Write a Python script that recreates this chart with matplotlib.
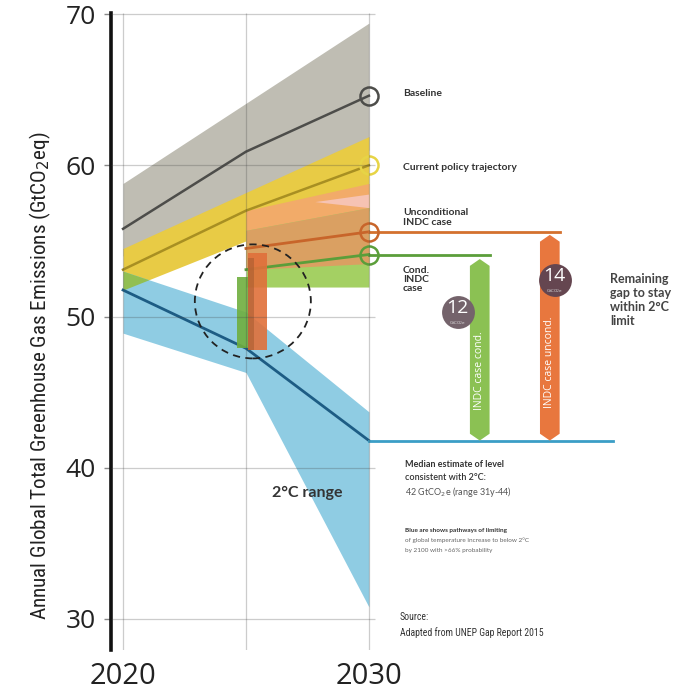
import numpy as np
import matplotlib
matplotlib.use('Agg')
import matplotlib.pyplot as plt
from matplotlib.patches import Ellipse, Polygon
from matplotlib import font_manager

# ---------------- data ----------------
years = [2020, 2025, 2030]
baseline = [55.8, 60.9, 64.6]
baseline_hi = [58.8, 64.1, 69.4]
baseline_lo = [54.0, 57.5, 61.0]
current = [53.1, 57.0, 60.0]
current_hi = [54.5, 58.2, 61.9]
current_lo = [51.75, 55.0, 57.0]
twoC = [51.75, 47.9, 41.8]
twoC_hi = [53.0, 50.3, 43.7]
twoC_lo = [48.9, 46.3, 30.8]

indc_years = [2025, 2030]
uncond = [54.5, 55.6]
uncond_hi = [57.0, 58.8]
uncond_lo = [53.1, 53.5]
cond = [53.1, 54.1]
cond_hi = [55.7, 57.2]
cond_lo = [51.95, 51.95]

pink_years = [2027.8, 2030]
pink_hi = [57.6, 58.1]
pink_lo = [57.6, 57.2]

bar_cond_2025 = [47.9, 52.6]
bar_uncond_2025 = [47.8, 54.2]

target_2030 = 41.8
gap_values = ['12', '14']
gap_names = ['INDC case cond.', 'INDC case uncond.']
yticks = [30, 40, 50, 60, 70]
xticks = [2020, 2030]

# ---------------- fonts ----------------
names = {f.name for f in font_manager.fontManager.ttflist}
if 'Liberation Sans Narrow' in names:
    narrow = dict(family='Liberation Sans Narrow')
elif 'Roboto Condensed' in names:
    narrow = dict(family='Roboto Condensed')
else:
    narrow = dict(family='DejaVu Sans', stretch='condensed')
LAB = 'Lato'

# ---------------- figure ----------------
fig = plt.figure(figsize=(6.86, 6.91), dpi=100)
ax = fig.add_axes([111/686, 1-650/691, 1-111/686, (650-13)/691])
ax.set_xlim(2019.51, 2042.9)
ax.set_ylim(27.95, 70.07)
for s in ['top', 'right', 'bottom']:
    ax.spines[s].set_visible(False)
ax.spines['left'].set_linewidth(2.6)
ax.spines['left'].set_color('#111111')

ax.set_yticks(yticks)
ax.set_yticklabels([str(v) for v in yticks], family='Open Sans', fontsize=19, color='#222222')
ax.tick_params(axis='y', length=5, width=1, color='#888888', pad=6)
ax.set_xticks(xticks)
ax.set_xticklabels([str(v) for v in xticks], family='Open Sans', fontsize=21, color='#222222')
ax.tick_params(axis='x', length=0, pad=9)

ax.set_ylabel('Annual Global Total Greenhouse Gas Emissions (GtCO$_2$eq)',
              fontsize=15.2, color='#222222', **narrow)
ax.yaxis.set_label_coords(-0.1, 0.43)

# gridlines (drawn on top, semi transparent)
ax.hlines(yticks, 2019.51, 2030.25, color='#444444', lw=0.9, alpha=0.27, zorder=9)
ax.vlines(years, 27.95, 70.07, color='#444444', lw=0.9, alpha=0.27, zorder=9)

# ---------------- bands ----------------
ax.fill_between(years, baseline_lo, baseline_hi, color='#bfbdb3', lw=0, zorder=1)
ax.fill_between(years, current_lo, current_hi, color='#e8cb45', lw=0, zorder=2)
ax.fill_between(years, twoC_lo, twoC_hi, color='#8fcce3', lw=0, zorder=2)
xs = np.linspace(2020, 2025, 300)
ov_lo = np.maximum(np.interp(xs, years, current_lo), np.interp(xs, years, twoC_lo))
ov_hi = np.minimum(np.interp(xs, years, current_hi), np.interp(xs, years, twoC_hi))
ax.fill_between(xs, ov_lo, ov_hi, where=ov_hi > ov_lo, interpolate=True,
                color='#92bf52', lw=0, zorder=2.5)

ax.fill_between(indc_years, uncond_lo, uncond_hi, color='#f2ab69', lw=0, zorder=3)
ax.fill_between(pink_years, pink_lo, pink_hi, color='#f6c3b3', lw=0, zorder=3.1)
ax.fill_between(indc_years, cond_lo, cond_hi, color='#a4d063', lw=0, zorder=3)
ov2_lo = np.maximum(uncond_lo, cond_lo)
ov2_hi = np.minimum(uncond_hi, cond_hi)
ax.fill_between(indc_years, ov2_lo, ov2_hi, color='#daa062', lw=0, zorder=3.2)

# ---------------- lines ----------------
ax.plot(years, baseline, color='#4d4d4a', lw=1.8, zorder=5)
ax.plot(years, current, color='#a88f22', lw=1.8, zorder=5)
ax.plot(indc_years, uncond, color='#c8652a', lw=2.0, zorder=5)
ax.plot(indc_years, cond, color='#5b9e3a', lw=2.0, zorder=5)
ax.plot(years, twoC, color='#1d5c84', lw=2.0, zorder=5)

mk = dict(marker='o', ms=13, mfc='none', mew=1.8, zorder=6, clip_on=False)
ax.plot([years[-1]], [baseline[-1]], mec='#4d4d4a', **mk)
ax.plot([years[-1]], [current[-1]], mec='#e7d445', **mk)
ax.plot([indc_years[-1]], [uncond[-1]], mec='#c8652a', **mk)
ax.plot([indc_years[-1]], [cond[-1]], mec='#5b9e3a', **mk)

# extension lines to the gap arrows
x_cond, x_unc, hw = 2034.51, 2037.36, 0.4
ax.plot([2030, x_cond + hw], [cond[-1]] * 2, color='#5b9e3a', lw=2.0, zorder=5, clip_on=False)
ax.plot([2030, x_unc + hw], [uncond[-1]] * 2, color='#d4712e', lw=2.0, zorder=5, clip_on=False)
ax.plot([2030, 2039.92], [target_2030] * 2, color='#3b9ec6', lw=2.0, zorder=5, clip_on=False)

# 2025 bars
ax.bar([2024.855], [bar_cond_2025[1] - bar_cond_2025[0]], bottom=[bar_cond_2025[0]],
       width=0.45, color='#6fae3e', alpha=0.9, lw=0, zorder=7)
ax.bar([2025.47], [bar_uncond_2025[1] - bar_uncond_2025[0]], bottom=[bar_uncond_2025[0]],
       width=0.77, color='#e0703a', alpha=0.9, lw=0, zorder=7)
ax.bar([2025.2], [bar_uncond_2025[1] - bar_uncond_2025[0] - 0.3], bottom=[bar_uncond_2025[0]],
       width=0.22, color='#a45a2e', alpha=0.55, lw=0, zorder=7.1)

# dashed circle
ax.add_patch(Ellipse((2025.28, 51.0), 4.72, 7.54, fill=False, ls=(0, (4, 3)),
                     lw=1.3, ec='#222222', zorder=8))

# gap arrows
def gap_arrow(xc, top, bottom, color):
    h = 0.45
    pts = [(xc - hw, bottom + h), (xc, bottom), (xc + hw, bottom + h),
           (xc + hw, top - h), (xc, top), (xc - hw, top - h)]
    ax.add_patch(Polygon(pts, closed=True, fc=color, ec='none', zorder=7, clip_on=False))

gap_arrow(x_cond, cond[-1] - 0.3, target_2030, '#8bc153')
gap_arrow(x_unc, uncond[-1] - 0.2, target_2030, '#e8773e')
ax.text(x_cond, 46.4, gap_names[0], rotation=90, color='white', fontsize=7.5,
        ha='center', va='center', family='Open Sans', zorder=8)
ax.text(x_unc, 47.0, gap_names[1], rotation=90, color='white', fontsize=7.5,
        ha='center', va='center', family='Open Sans', zorder=8)

for (xc, yc, col), val in zip([(2033.62, 50.29, '#74636b'), (2037.56, 52.41, '#654650')], gap_values):
    ax.scatter([xc], [yc], s=560, color=col, zorder=9, clip_on=False, lw=0)
    ax.text(xc, yc + 0.25, val, color='white', fontsize=14, ha='center', va='center',
            family='Open Sans', zorder=10)
    ax.text(xc, yc - 0.75, 'GtCO$_2$e', color='#dddddd', fontsize=3, ha='center',
            va='center', zorder=10)

# ---------------- annotations ----------------
tc = '#333333'
ax.text(2031.38, 64.78, 'Baseline', fontsize=7.5, weight='bold', color=tc, family=LAB, va='center')
ax.text(2031.38, 59.88, 'Current policy trajectory', fontsize=7.5, weight='bold', color=tc,
        family=LAB, va='center')
ax.text(2031.38, 56.57, 'Unconditional\nINDC case', fontsize=7.5, weight='bold', color=tc,
        family=LAB, va='center', linespacing=1.1)
ax.text(2031.38, 52.47, 'Cond.\nINDC\ncase', fontsize=7.5, weight='bold', color=tc,
        family=LAB, va='center', linespacing=1.0)
ax.text(2039.8, 51.1, 'Remaining\ngap to stay\nwithin 2°C\nlimit', fontsize=9, weight='bold',
        color='#444444', family=LAB, va='center', linespacing=1.2)
ax.text(2027.48, 38.32, '2°C range', fontsize=11.5, weight='bold', color=tc, family=LAB,
        ha='center', va='center', zorder=10)

ax.text(2031.46, 40.24, 'Median estimate of level', fontsize=6.5, weight='bold', color=tc,
        family=LAB, va='center')
ax.text(2031.46, 39.38, 'consistent with 2°C:', fontsize=6.5, color=tc, family=LAB,
        va='center', weight='semibold')
ax.text(2031.46, 38.39, '42 GtCO$_2$e (range 31y-44)', fontsize=6.5, color='#555555',
        family=LAB, va='center')
ax.text(2031.46, 35.87, 'Blue are shows pathways of limiting', fontsize=4.6, weight='bold',
        color=tc, family=LAB, va='center')
ax.text(2031.46, 35.21, 'of global temperature increase to below 2°C', fontsize=4.6,
        color='#666666', family=LAB, va='center')
ax.text(2031.46, 34.55, 'by 2100 with >66% probability', fontsize=4.6, color='#666666',
        family=LAB, va='center')
ax.text(2031.26, 30.12, 'Source:', fontsize=7, color=tc, va='center', **narrow)
ax.text(2031.26, 29.13, 'Adapted from UNEP Gap Report 2015', fontsize=7, color=tc,
        va='center', **narrow)

fig.savefig('out.png', dpi=100)
